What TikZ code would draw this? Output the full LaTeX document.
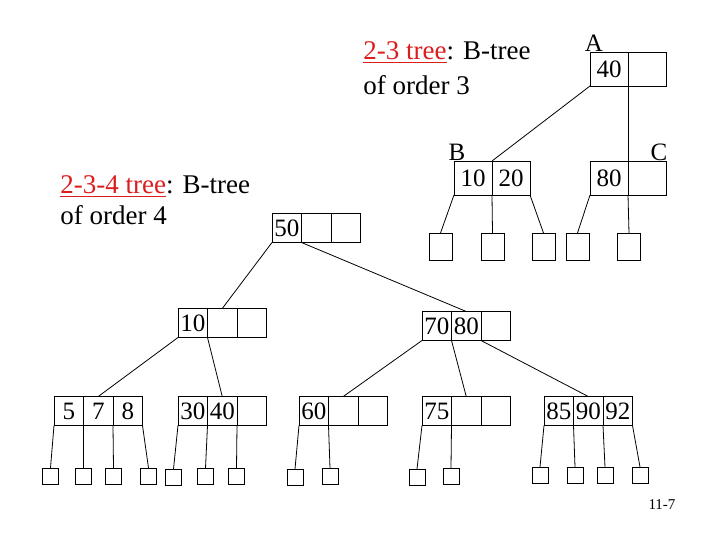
\documentclass[tikz,border=0pt]{standalone}
\usepackage{fontspec}
\setmainfont{Liberation Serif}
\usepackage{tikz}
\usetikzlibrary{positioning}
\usepackage{xcolor}
\definecolor{btred}{RGB}{218,30,30}
\newcommand{\redul}[1]{\textcolor{btred}{\setbox0\hbox{#1}\rlap{\rule[-3.5pt]{\wd0}{1.6pt}}\box0}}
\tikzstyle{cell} = [rectangle, draw, outer sep=0pt, inner sep=0pt, minimum width=29.5pt, minimum height=29pt, font=\fontsize{25}{30}\selectfont]
\tikzstyle{bigcell} = [cell, minimum width=38pt, minimum height=34pt]
\tikzstyle{leaf} = [rectangle, draw, outer sep=0pt, minimum width=16pt, minimum height=16pt]
\tikzstyle{bigleaf} = [leaf, minimum width=23pt, minimum height=27pt]
\tikzstyle{caption} = [anchor=base west, inner sep=0pt, font=\fontsize{27}{33}\selectfont]
\tikzstyle{tag} = [inner sep=0pt, font=\fontsize{25}{30}\selectfont]

\begin{document}
\begin{tikzpicture}[x=1pt, y=-1pt, line width=0.8pt]
\useasboundingbox (0,0) rectangle (720,540);

% Captions
\node[caption] (cap23a) at (363,60) {\redul{2-3 tree}: B-tree};
\node[caption] (cap23b) at (363,95) {of order 3};
\node[caption] (cap234a) at (60,194) {\redul{2-3-4 tree}: B-tree};
\node[caption] (cap234b) at (60,225) {of order 4};

% 2-3 tree
\node[bigcell] (A1) at (609,69) {40};
\node[bigcell, right=0pt of A1] (A2) {};
\node[bigcell] (B1) at (473,178) {10};
\node[bigcell, right=0pt of B1] (B2) {20};
\node[bigcell] (C1) at (609,178) {80};
\node[bigcell, right=0pt of C1] (C2) {};
\node[tag] (tagA) at (594,43) {A};
\node[tag] (tagB) at (457,152) {B};
\node[tag] (tagC) at (659,152) {C};

\node[bigleaf] (t1) at (440.5,246.5) {};
\node[bigleaf] (t2) at (492.5,246.5) {};
\node[bigleaf] (t3) at (543.5,246.5) {};
\node[bigleaf] (t4) at (577.5,246.5) {};
\node[bigleaf] (t5) at (629,246.5) {};

\draw (A1.south west) -- (B1.north east);
\draw (A1.south east) -- (C1.north east);
\draw (B1.south west) -- (t1.north);
\draw (B1.south east) -- (t2.north);
\draw (B2.south east) -- (t3.north);
\draw (C1.south west) -- (t4.north);
\draw (C1.south east) -- (t5.north);

% 2-3-4 tree
\node[cell] (r1) at (286.75,228) {50};
\node[cell, right=0pt of r1] (r2) {};
\node[cell, right=0pt of r2] (r3) {};

\node[cell] (p1) at (192.75,323) {10};
\node[cell, right=0pt of p1] (p2) {};
\node[cell, right=0pt of p2] (p3) {};

\node[cell] (q1) at (436.75,326) {70};
\node[cell, right=0pt of q1] (q2) {80};
\node[cell, right=0pt of q2] (q3) {};

\node[cell] (u1) at (68.75,411) {5};
\node[cell, right=0pt of u1] (u2) {7};
\node[cell, right=0pt of u2] (u3) {8};

\node[cell] (v1) at (192.75,411) {30};
\node[cell, right=0pt of v1] (v2) {40};
\node[cell, right=0pt of v2] (v3) {};

\node[cell] (w1) at (313.75,411) {60};
\node[cell, right=0pt of w1] (w2) {};
\node[cell, right=0pt of w2] (w3) {};

\node[cell] (x1) at (436.75,411) {75};
\node[cell, right=0pt of x1] (x2) {};
\node[cell, right=0pt of x2] (x3) {};

\node[cell] (y1) at (558.75,411) {85};
\node[cell, right=0pt of y1] (y2) {90};
\node[cell, right=0pt of y2] (y3) {92};

\draw (r1.south west) -- (p2.north);
\draw (r1.south east) -- (q2.north);
\draw (p1.south west) -- (u2.north);
\draw (p1.south east) -- (v2.north);
\draw (q1.south west) -- (w2.north);
\draw (q1.south east) -- (x2.north);
\draw (q2.south east) -- (y2.north);

% Leaves
\node[leaf] (l1) at (50.5,476) {};
\node[leaf] (l2) at (83.5,476) {};
\node[leaf] (l3) at (113.5,476) {};
\node[leaf] (l4) at (148.5,476) {};
\node[leaf] (l5) at (173.5,477) {};
\node[leaf] (l6) at (205.5,476) {};
\node[leaf] (l7) at (236.5,476) {};
\node[leaf] (l8) at (295,477) {};
\node[leaf] (l9) at (330,476) {};
\node[leaf] (l10) at (417,477) {};
\node[leaf] (l11) at (451,476) {};
\node[leaf] (l12) at (540,475) {};
\node[leaf] (l13) at (575,475) {};
\node[leaf] (l14) at (605,475) {};
\node[leaf] (l15) at (640,475) {};

\draw (u1.south west) -- (l1.north);
\draw (u1.south east) -- (l2.north);
\draw (u2.south east) -- (l3.north);
\draw (u3.south east) -- (l4.north);
\draw (v1.south west) -- (l5.north);
\draw (v1.south east) -- (l6.north);
\draw (v2.south east) -- (l7.north);
\draw (w1.south west) -- (l8.north);
\draw (w1.south east) -- (l9.north);
\draw (x1.south west) -- (l10.north);
\draw (x1.south east) -- (l11.north);
\draw (y1.south west) -- (l12.north);
\draw (y1.south east) -- (l13.north);
\draw (y2.south east) -- (l14.north);
\draw (y3.south east) -- (l15.north);

% Page number
\node[inner sep=0pt, font=\fontsize{15}{18}\selectfont] (pgno) at (662,505) {11-7};
\end{tikzpicture}
\end{document}
